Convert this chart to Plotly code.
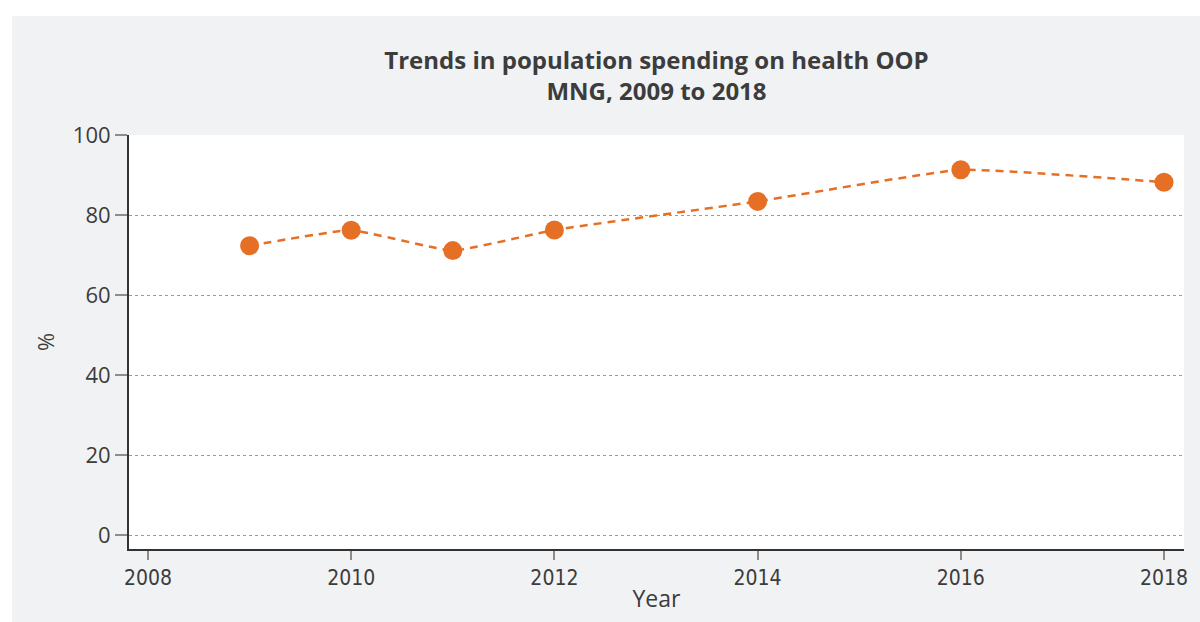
import plotly.graph_objects as go

years = [2009, 2010, 2011, 2012, 2014, 2016, 2018]
values = [72.3, 76.2, 71.1, 76.25, 83.4, 91.3, 88.2]
x_ticks = [2008, 2010, 2012, 2014, 2016, 2018]
y_ticks = [0, 20, 40, 60, 80, 100]
title_lines = ["Trends in population spending on health OOP", "MNG, 2009 to 2018"]

W, H = 1200, 622
L, R, T, B = 129, 16, 135, 73
pw, ph = W - L - R, H - T - B

def px_x(p):
    return (p - L) / pw

def px_y(p):
    return (H - B - p) / ph

GRAY = "#f1f2f4"
ORANGE = "#e66f26"
TXT = "#3c3c3c"

fig = go.Figure()
fig.add_trace(go.Scatter(
    x=years, y=values, mode="lines+markers",
    line=dict(color=ORANGE, width=2.5, dash="8px,6px", shape="spline", smoothing=0.35),
    marker=dict(color=ORANGE, size=19),
    showlegend=False, hoverinfo="x+y",
))

fig.update_layout(
    width=W, height=H,
    margin=dict(l=L, r=R, t=T, b=B, pad=0),
    paper_bgcolor=GRAY,
    plot_bgcolor="white",
    font=dict(family="Open Sans, Noto Sans, sans-serif", color=TXT),
    title=dict(
        text="<b>" + "<br>".join(title_lines) + "</b>",
        x=px_x(656.5), xref="paper", xanchor="center",
        y=1 - 69 / H, yref="container", yanchor="top",
        font=dict(size=24, color=TXT, family="Open Sans, Noto Sans, sans-serif"),
    ),
    shapes=[
        dict(type="rect", xref="paper", yref="paper", layer="below",
             x0=px_x(0), x1=px_x(W), y0=px_y(16), y1=px_y(0),
             fillcolor="white", line=dict(width=0)),
        dict(type="rect", xref="paper", yref="paper", layer="below",
             x0=px_x(0), x1=px_x(12), y0=px_y(H), y1=px_y(0),
             fillcolor="white", line=dict(width=0)),
    ],
)

fig.update_xaxes(
    range=[2008 - 19 / 101.6, 2018 + 20 / 101.6],
    tickvals=x_ticks, ticktext=[str(v) for v in x_ticks],
    showgrid=False, zeroline=False,
    showline=True, linecolor="#333333", linewidth=2,
    ticks="outside", ticklen=9, tickwidth=2, tickcolor="#8c8c8c",
    tickfont=dict(size=21, family="DejaVu Sans Condensed, Open Sans, sans-serif", color=TXT, weight="normal"),
    title=dict(text="Year", font=dict(size=23, color=TXT), standoff=2),
)
fig.update_yaxes(
    range=[-3.5, 100],
    tickvals=y_ticks,
    showgrid=True, gridcolor="#9a9a9a", gridwidth=1, griddash="dot",
    zeroline=False,
    showline=True, linecolor="#333333", linewidth=2,
    ticks="outside", ticklen=12, tickwidth=2, tickcolor="#8c8c8c",
    tickfont=dict(size=22, color=TXT),
    title=dict(text="%", font=dict(size=22, color=TXT), standoff=12),
)

fig.write_html("out.html", config={"displayModeBar": False},
               post_script="document.body.style.margin='0';document.body.style.padding='0';")
